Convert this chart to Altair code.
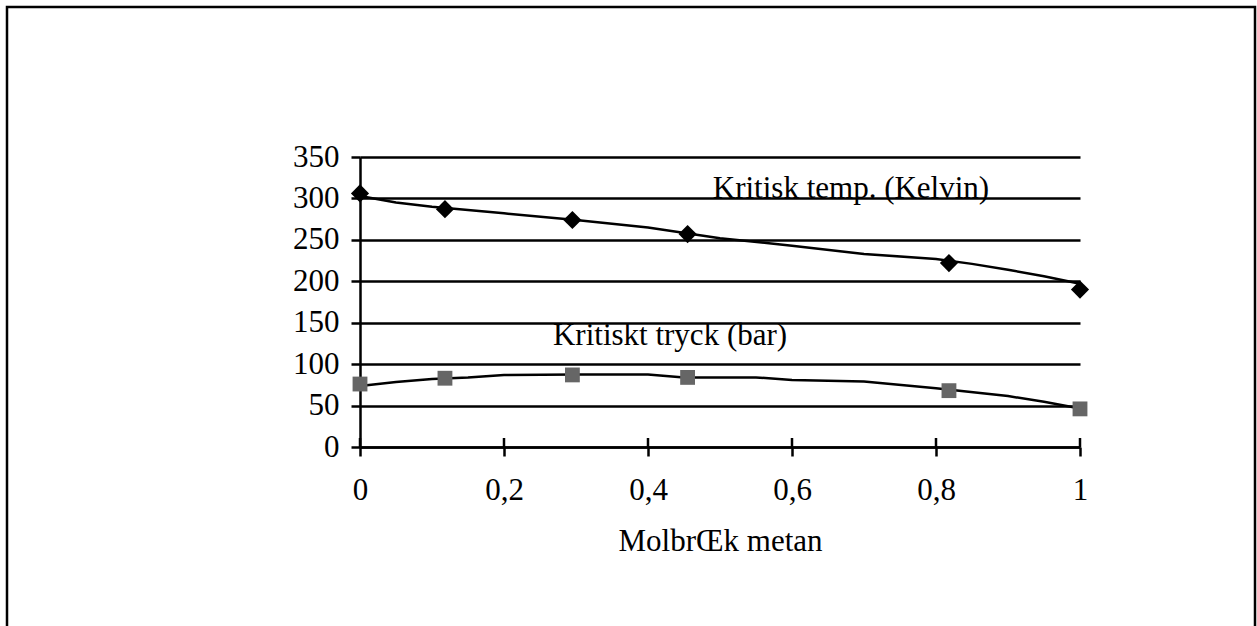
import altair as alt
import pandas as pd

# Measured points (markers)
marker_x = [0, 0.118, 0.295, 0.455, 0.818, 1.0]
temp_k = [306, 287, 274, 257, 222, 190]
press_bar = [76, 83, 87, 84, 68, 46]

# Fitted curves
temp_fit_x = [0, 0.05, 0.1, 0.2, 0.3, 0.4, 0.5, 0.6, 0.7, 0.8, 0.85, 0.9, 0.95, 1.0]
temp_fit_y = [303, 295, 290, 282, 274, 265, 252, 243, 233, 227, 221, 214, 206, 197]
press_fit_x = [0, 0.05, 0.1, 0.15, 0.2, 0.3, 0.4, 0.45, 0.55, 0.6, 0.7, 0.8, 0.9, 0.95, 1.0]
press_fit_y = [73.5, 78.5, 82, 84, 87, 87.5, 87.5, 84, 84, 81, 79, 71, 61.5, 54.5, 46.5]

x_ticks = [0, 0.2, 0.4, 0.6, 0.8, 1]
y_ticks = [0, 50, 100, 150, 200, 250, 300, 350]

label_temp = "Kritisk temp. (Kelvin)"
label_press = "Kritiskt tryck (bar)"
x_title = "MolbrŒk metan"

FONT = "Times New Roman, Liberation Serif, DejaVu Serif, serif"
FS = 31
W, H = 720, 290

pts = pd.DataFrame({"x": marker_x, "temp": temp_k, "press": press_bar})
tfit = pd.DataFrame({"x": temp_fit_x, "y": temp_fit_y})
pfit = pd.DataFrame({"x": press_fit_x, "y": press_fit_y})
ticks = pd.DataFrame({"x": x_ticks})
one = pd.DataFrame({"a": [0]})

xscale = alt.Scale(domain=[0, 1], nice=False, zero=False)
yscale = alt.Scale(domain=[0, 350], nice=False)

xaxis = alt.Axis(
    values=x_ticks,
    labelExpr="replace(toString(datum.value), '.', ',')",
    grid=False,
    domainColor="black", domainWidth=2.5,
    tickColor="black", tickWidth=2.5, tickSize=9,
    labelFont=FONT, labelFontSize=FS, labelColor="black", labelPadding=19,
    labelFlush=False,
    title=x_title, titleFont=FONT, titleFontSize=FS, titleFontWeight="normal",
    titleColor="black", titlePadding=21,
)
yaxis = alt.Axis(
    values=y_ticks,
    grid=True, gridColor="black", gridWidth=2.5, gridOpacity=1,
    domainColor="black", domainWidth=2.5,
    tickColor="black", tickWidth=2.5, tickSize=9,
    labelFont=FONT, labelFontSize=FS, labelColor="black", labelPadding=12,
    title=None,
)

frame = alt.Chart(one).mark_rect(filled=False, stroke="black", strokeWidth=2.5).encode(
    x=alt.value(-353), x2=alt.value(895), y=alt.value(-150), y2=alt.value(520)
)

temp_line = alt.Chart(tfit).mark_line(color="black", strokeWidth=2.5).encode(
    x=alt.X("x:Q", scale=xscale, axis=xaxis),
    y=alt.Y("y:Q", scale=yscale, axis=yaxis),
)
press_line = alt.Chart(pfit).mark_line(color="black", strokeWidth=2.5).encode(
    x=alt.X("x:Q", scale=xscale),
    y=alt.Y("y:Q", scale=yscale),
)
temp_pts = alt.Chart(pts).mark_point(shape="diamond", filled=True, color="black", size=330, opacity=1).encode(
    x=alt.X("x:Q", scale=xscale),
    y=alt.Y("temp:Q", scale=yscale),
)
press_pts = alt.Chart(pts).mark_point(shape="square", filled=True, color="#666666", size=220, opacity=1).encode(
    x=alt.X("x:Q", scale=xscale),
    y=alt.Y("press:Q", scale=yscale),
)
up_ticks = alt.Chart(ticks).mark_rule(color="black", strokeWidth=2.5).encode(
    x=alt.X("x:Q", scale=xscale),
    y=alt.value(H), y2=alt.value(H - 9),
)
txt_temp = alt.Chart(pd.DataFrame({"x": [0.49], "y": [300], "t": [label_temp]})).mark_text(
    font=FONT, fontSize=FS, color="black", align="left", baseline="alphabetic"
).encode(x=alt.X("x:Q", scale=xscale), y=alt.Y("y:Q", scale=yscale), text="t:N")
txt_press = alt.Chart(pd.DataFrame({"x": [0.268], "y": [123], "t": [label_press]})).mark_text(
    font=FONT, fontSize=FS, color="black", align="left", baseline="alphabetic"
).encode(x=alt.X("x:Q", scale=xscale), y=alt.Y("y:Q", scale=yscale), text="t:N")

chart = alt.layer(
    frame, temp_line, press_line, up_ticks, temp_pts, press_pts, txt_temp, txt_press
).properties(
    width=W, height=H,
    autosize=alt.AutoSizeParams(type="none"),
    padding={"left": 360, "top": 157, "right": 177, "bottom": 179},
    background="white",
).configure_view(stroke=None)

chart.save("out.html", embed_options={"renderer": "svg", "actions": False})
